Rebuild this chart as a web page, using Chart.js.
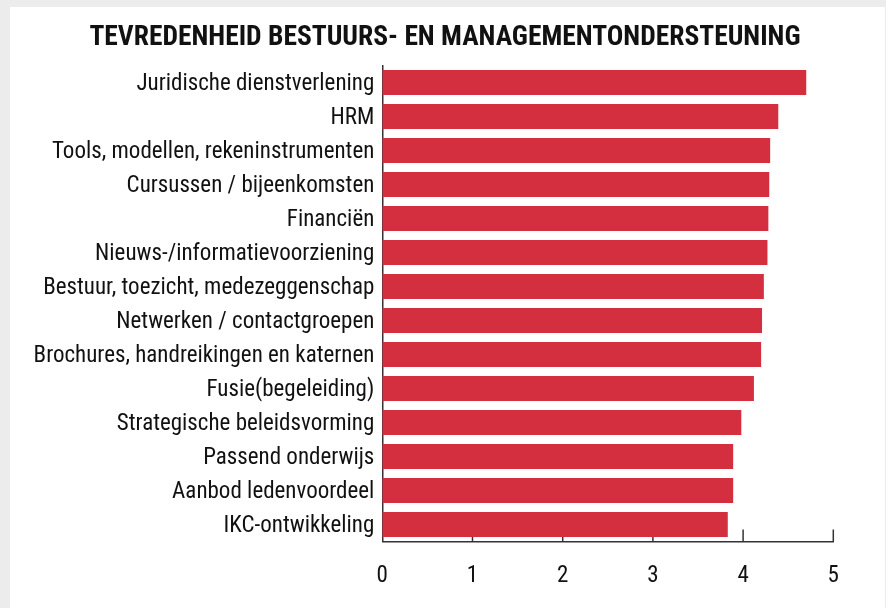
<!DOCTYPE html>
<html>
<head>
<meta charset="utf-8">
<script src="https://cdn.jsdelivr.net/npm/chart.js@4"></script>
<style>
  html, body { margin: 0; padding: 0; background: #ececec; }
  #panel { position: absolute; left: 10px; top: 7px; width: 875px; height: 601px; background: #fff; }
  canvas { display: block; }
</style>
</head>
<body>
<div id="panel"><canvas id="chart" width="875" height="601"></canvas></div>
<script>
const titleText = 'TEVREDENHEID BESTUURS- EN MANAGEMENTONDERSTEUNING';

const categories = [
  'Juridische dienstverlening',
  'HRM',
  'Tools, modellen, rekeninstrumenten',
  'Cursussen / bijeenkomsten',
  'Financiën',
  'Nieuws-/informatievoorziening',
  'Bestuur, toezicht, medezeggenschap',
  'Netwerken / contactgroepen',
  'Brochures, handreikingen en katernen',
  'Fusie(begeleiding)',
  'Strategische beleidsvorming',
  'Passend onderwijs',
  'Aanbod ledenvoordeel',
  'IKC-ontwikkeling'
];
const scores = [4.70, 4.39, 4.30, 4.29, 4.28, 4.27, 4.23, 4.21, 4.20, 4.12, 3.98, 3.89, 3.89, 3.83];
const xTicks = [0, 1, 2, 3, 4, 5];

const fontFamily = "'Roboto Condensed', 'Liberation Sans Narrow', 'Arial Narrow', sans-serif";

// little tick marks pointing up from the x axis
const upTicks = {
  id: 'upTicks',
  beforeDatasetsDraw(chart) {
    const x = chart.scales.x;
    const ctx = chart.ctx;
    const bottom = chart.chartArea.bottom;
    ctx.save();
    ctx.strokeStyle = '#333';
    ctx.lineWidth = 1.5;
    xTicks.forEach(v => {
      if (v === 0) return;
      const px = x.getPixelForValue(v);
      ctx.beginPath();
      ctx.moveTo(px, bottom - 12);
      ctx.lineTo(px, bottom);
      ctx.stroke();
    });
    ctx.restore();
  }
};

// title centred on the whole panel, not on the padded layout box
const panelTitle = {
  id: 'panelTitle',
  afterDraw(chart) {
    const ctx = chart.ctx;
    ctx.save();
    ctx.fillStyle = '#111';
    ctx.font = `bold 27.5px ${fontFamily}`;
    ctx.textAlign = 'center';
    ctx.textBaseline = 'middle';
    ctx.fillText(titleText, 435, 31.5);
    ctx.restore();
  }
};

const ctx = document.getElementById('chart').getContext('2d');
new Chart(ctx, {
  type: 'bar',
  data: {
    labels: categories,
    datasets: [{
      data: scores,
      backgroundColor: '#d32f3f',
      borderWidth: 0,
      categoryPercentage: 1,
      barPercentage: 0.735
    }]
  },
  options: {
    indexAxis: 'y',
    responsive: false,
    animation: false,
    layout: { padding: { left: 0, right: 51.7, top: 58.5, bottom: 0 } },
    plugins: {
      legend: { display: false },
      tooltip: { enabled: false },
      title: { display: false }
    },
    scales: {
      x: {
        min: 0,
        max: 5,
        afterFit(scale) { scale.height = 66.5; },
        afterBuildTicks(scale) { scale.ticks = xTicks.map(v => ({ value: v })); },
        grid: { display: false, drawTicks: false },
        border: { display: true, color: '#333', width: 1.5 },
        ticks: {
          color: '#111',
          padding: 21,
          font: { family: fontFamily, size: 23 }
        }
      },
      y: {
        afterFit(scale) { scale.width = 372.3; },
        grid: { display: false, drawTicks: false },
        border: { display: true, color: '#333', width: 1.5 },
        ticks: {
          color: '#111',
          padding: 8,
          labelOffset: 2,
          font: { family: fontFamily, size: 23 }
        }
      }
    }
  },
  plugins: [upTicks, panelTitle]
});
</script>
</body>
</html>
